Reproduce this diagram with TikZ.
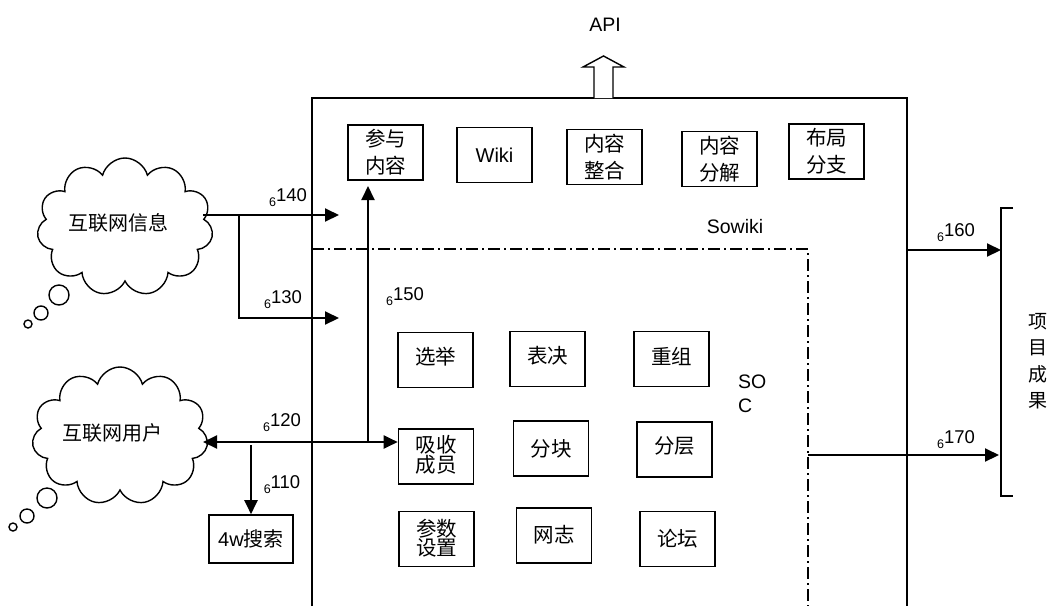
\documentclass[tikz,border=0pt]{standalone}
\usepackage{fontspec}
\setmainfont{Liberation Sans}
\newfontfamily\cjk{Noto Sans CJK SC}
\usetikzlibrary{shapes.symbols,arrows.meta}
\tikzset{
  bx/.style={draw,line width=1.6pt,minimum width=75pt,minimum height=55pt,inner sep=0pt,align=center,font=\cjk\fontsize{20.5}{27}\selectfont},
  arr/.style={line width=2pt,-{Triangle[length=14pt,width=13pt]}},
  darr/.style={line width=2pt,{Triangle[length=14pt,width=13pt]}-{Triangle[length=14pt,width=13pt]}},
  lbl/.style={font=\fontsize{18.5}{18.5}\selectfont,inner sep=0pt},
  cl/.style={draw,cloud,cloud puffs=11,aspect=1.25,line width=1.4pt,minimum width=176pt,minimum height=138pt,inner sep=0pt},
  ball/.style={draw,circle,line width=1.4pt,inner sep=0pt},
  dd/.style={line width=1.4pt,dash pattern=on 12pt off 4pt on 2pt off 4pt},
  ct/.style={font=\cjk\fontsize{20}{26}\selectfont,inner sep=0pt}
}
\newcommand{\lab}[1]{{\raisebox{-5pt}{\fontsize{12.5}{12.5}\selectfont 6}}#1}
\begin{document}
\begin{tikzpicture}[x=1pt,y=-1pt]
\useasboundingbox (0,0) rectangle (1048,606);
% outer box
\draw[line width=1.6pt] (312,606) -- (312,98) -- (907,98) -- (907,606);
% inner dash-dot box
\draw[dd] (312,249) -- (808,249) -- (808,606);
% API arrow
\draw[line width=1.4pt,fill=white] (594,98) -- (594,67) -- (583,67) -- (603.5,56) -- (624,67) -- (613,67) -- (613,98);
\node[lbl,font=\fontsize{19.5}{19.5}\selectfont] (api) at (605,25) {API};
\node[lbl,font=\fontsize{19.5}{19.5}\selectfont] (sowiki) at (735,227) {Sowiki};
\node[lbl,align=left,anchor=west,font=\fontsize{19.5}{24}\selectfont] (soc) at (738,394) {SO\\C};
% top boxes
\node[bx] (cy) at (385.5,152.5) {参与\\内容};
\node[bx,font=\fontsize{20}{26}\selectfont] (wiki) at (494.5,155) {Wiki};
\node[bx] (zh) at (604.5,157) {内容\\整合};
\node[bx] (fj) at (719.5,159) {内容\\分解};
\node[bx] (bj) at (826.5,151.5) {布局\\分支};
% inner boxes
\node[bx] (xj) at (435.5,360) {\raisebox{8pt}{选举}};
\node[bx] (bjue) at (547.5,359) {\raisebox{8pt}{表决}};
\node[bx] (cz) at (671.5,359) {\raisebox{6pt}{重组}};
\node[bx] (xs) at (436,456.5) {\raisebox{5pt}{\shortstack{吸收\\[-2pt]成员}}};
\node[bx] (fk) at (551,448.5) {分块};
\node[bx] (fc) at (674.5,449.5) {\raisebox{8pt}{分层}};
\node[bx] (cs) at (436.5,539) {\raisebox{3pt}{\shortstack{参数\\[-2pt]设置}}};
\node[bx] (wz) at (554,535.5) {\raisebox{3pt}{网志}};
\node[bx] (lt) at (677.5,539) {论坛};
% clouds
\node[cl] (c1) at (125,227) {};
\node[ct] (c1t) at (118,223) {互联网信息};
\node[ball,minimum size=20pt] (b11) at (59,295) {};
\node[ball,minimum size=14pt] (b12) at (41,313) {};
\node[ball,minimum size=8pt] (b13) at (28,324) {};
\node[cl] (c2) at (120,436) {};
\node[ct] (c2t) at (112,433) {互联网用户};
\node[ball,minimum size=20pt] (b21) at (47,498) {};
\node[ball,minimum size=14pt] (b22) at (27,516) {};
\node[ball,minimum size=8pt] (b23) at (13,527) {};
% search box
\node[draw,line width=1.6pt,minimum width=84pt,minimum height=48pt,inner sep=0pt,font=\fontsize{20}{20}\selectfont] (ss) at (251,539) {4w{\cjk 搜索}};
% coordinates
\coordinate (c1e) at (203,215);
\coordinate (j1) at (239,215);
\coordinate (t140) at (339,215);
\coordinate (t130) at (339,318);
\coordinate (c2e) at (203,442);
\coordinate (j150) at (368,442);
\coordinate (t150) at (368,186);
\coordinate (s110) at (251,445);
\coordinate (s160) at (907,250);
\coordinate (s170) at (808,455);
\coordinate (e170) at (999,455);
% arrows
\draw[arr] (c1e) -- (t140);
\draw[arr] (j1) |- (t130);
\draw[darr] (c2e) -- (xs.west |- c2e);
\draw[arr] (j150) -- (t150);
\draw[arr] (s110) -- (ss.north);
% right bracket
\draw[line width=1.6pt] (1013,208) -- (1001,208) -- (1001,496) -- (1013,496);
\draw[arr] (s160) -- (1001,250);
\draw[arr] (s170) -- (e170);
\node[ct,align=center,font=\cjk\fontsize{19}{26.5}\selectfont] (xm) at (1038,361) {项\\目\\成\\果};
% labels
\node[lbl] (l140) at (288,198) {\lab{140}};
\node[lbl] (l130) at (283,300) {\lab{130}};
\node[lbl] (l150) at (405,297) {\lab{150}};
\node[lbl] (l120) at (282,423) {\lab{120}};
\node[lbl] (l110) at (282,485) {\lab{110}};
\node[lbl] (l160) at (956,233) {\lab{160}};
\node[lbl] (l170) at (956,440) {\lab{170}};
\end{tikzpicture}
\end{document}
